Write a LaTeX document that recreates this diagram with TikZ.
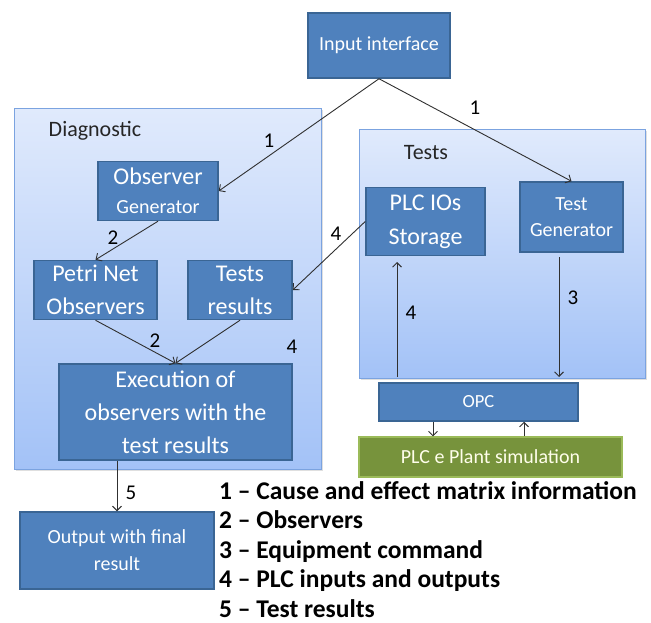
\documentclass[tikz,border=0pt]{standalone}
\usepackage{fontspec}
\setmainfont{Carlito}
\usetikzlibrary{arrows.meta,shadows}
\definecolor{boxfill}{HTML}{4F81BD}
\definecolor{boxline}{HTML}{3A6594}
\definecolor{grnfill}{HTML}{77933C}
\definecolor{grnline}{HTML}{9BBB59}
\definecolor{grptop}{HTML}{E0EAFC}
\definecolor{grpbot}{HTML}{A3C2F7}
\definecolor{grpline}{HTML}{7BA3E0}
\definecolor{wire}{HTML}{303030}
\tikzset{
  x=1pt, y=-1pt,
  group/.style={draw=grpline, line width=1pt, top color=grptop, bottom color=grpbot,
    drop shadow={opacity=0.25, shadow xshift=1.5pt, shadow yshift=-1.5pt}},
  blk/.style={draw=boxline, line width=1.5pt, fill=boxfill, text=white, align=center,
    inner sep=0pt, font=\fontsize{24}{33}\selectfont},
  grn/.style={draw=grnline, line width=1.2pt, fill=grnfill, text=white!92!yellow,
    inner sep=0pt, font=\fontsize{20}{24}\selectfont},
  flow/.style={draw=wire, line width=0.9pt, -{Straight Barb[length=4.5pt,width=9pt]}},
  lbl/.style={font=\fontsize{21}{24}\selectfont, text=black, inner sep=0pt},
  grplbl/.style={font=\fontsize{22}{26}\selectfont, text=black!85, inner sep=0pt},
}
\begin{document}
\begin{tikzpicture}
\useasboundingbox (0,0) rectangle (651,623);
% group panels
\node[group, minimum width=307pt, minimum height=360pt] (diag) at (167.5,289) {};
\node[group, minimum width=286pt, minimum height=248pt] (tests) at (502,254) {};
\node[grplbl] (diaglbl) at (95,131) {Diagnostic};
\node[grplbl] (testslbl) at (426,153) {Tests};
% blocks
\node[blk, minimum width=142pt, minimum height=65pt, font=\fontsize{20}{24}\selectfont] (in) at (379,45.5) {Input interface};
\node[blk, minimum width=120pt, minimum height=59pt] (og) at (158,191) {Observer\\[-4pt]{\fontsize{20}{24}\selectfont Generator}};
\node[blk, minimum width=123pt, minimum height=59pt] (pn) at (95.5,290) {Petri Net\\Observers};
\node[blk, minimum width=104pt, minimum height=59pt] (tr) at (240,290) {Tests\\results};
\node[blk, minimum width=233pt, minimum height=96pt] (ex) at (175.5,412) {Execution of\\observers with the\\test results};
\node[blk, minimum width=194pt, minimum height=77pt, font=\fontsize{20}{27}\selectfont] (out) at (117,550.5) {Output with final\\result};
\node[blk, minimum width=119pt, minimum height=68pt, font=\fontsize{24}{34}\selectfont] (plc) at (425.5,221.5) {PLC IOs\\Storage};
\node[blk, minimum width=103pt, minimum height=70pt, font=\fontsize{20}{26}\selectfont] (tg) at (571.5,217) {Test\\Generator};
\node[blk, minimum width=199pt, minimum height=38pt, font=\fontsize{18.5}{22}\selectfont] (opc) at (478.5,402) {OPC};
\node[grn, minimum width=263pt, minimum height=40pt] (sim) at (490.5,457) {PLC e Plant simulation};
% anchor points on the panel edge
\coordinate (plcup) at (397,377);
\coordinate (plcin) at (397,262);
\coordinate (tgout) at (559,257);
\coordinate (tgin) at (559,377);
% connectors
\draw[flow] (in.south) -- (og.east);
\draw[flow] (in.south) -- (tg.north);
\draw[flow] (og.south) -- (pn.north);
\draw[flow] (pn.south) -- (ex.north);
\draw[flow] (tr.south) -- (ex.north);
\draw[flow] (plc.west) -- (tr.east);
\draw[flow] (plcup) -- (plcin);
\draw[flow] (tgout) -- (tgin);
\draw[flow] (opc.south -| 433,0) -- (sim.north -| 433,0);
\draw[flow] (sim.north -| 524,0) -- (opc.south -| 524,0);
\draw[flow] (ex.south -| 117,0) -- (out.north);
% connector labels
\node[lbl] (l1a) at (269,141) {1};
\node[lbl] (l1b) at (475,108) {1};
\node[lbl] (l2a) at (113,238) {2};
\node[lbl] (l2b) at (155,341) {2};
\node[lbl] (l4a) at (336,234) {4};
\node[lbl] (l4b) at (292,347) {4};
\node[lbl] (l4c) at (411,313) {4};
\node[lbl] (l3) at (573,298) {3};
\node[lbl] (l5) at (131,493) {5};
% legend
\node[anchor=north west, align=left, inner sep=0pt, font=\bfseries\fontsize{25.5}{29.5}\selectfont] (legend) at (219,481)
 {1 – Cause and effect matrix information\\
  2 – Observers\\
  3 – Equipment command\\
  4 – PLC inputs and outputs\\
  5 – Test results};
\end{tikzpicture}
\end{document}
